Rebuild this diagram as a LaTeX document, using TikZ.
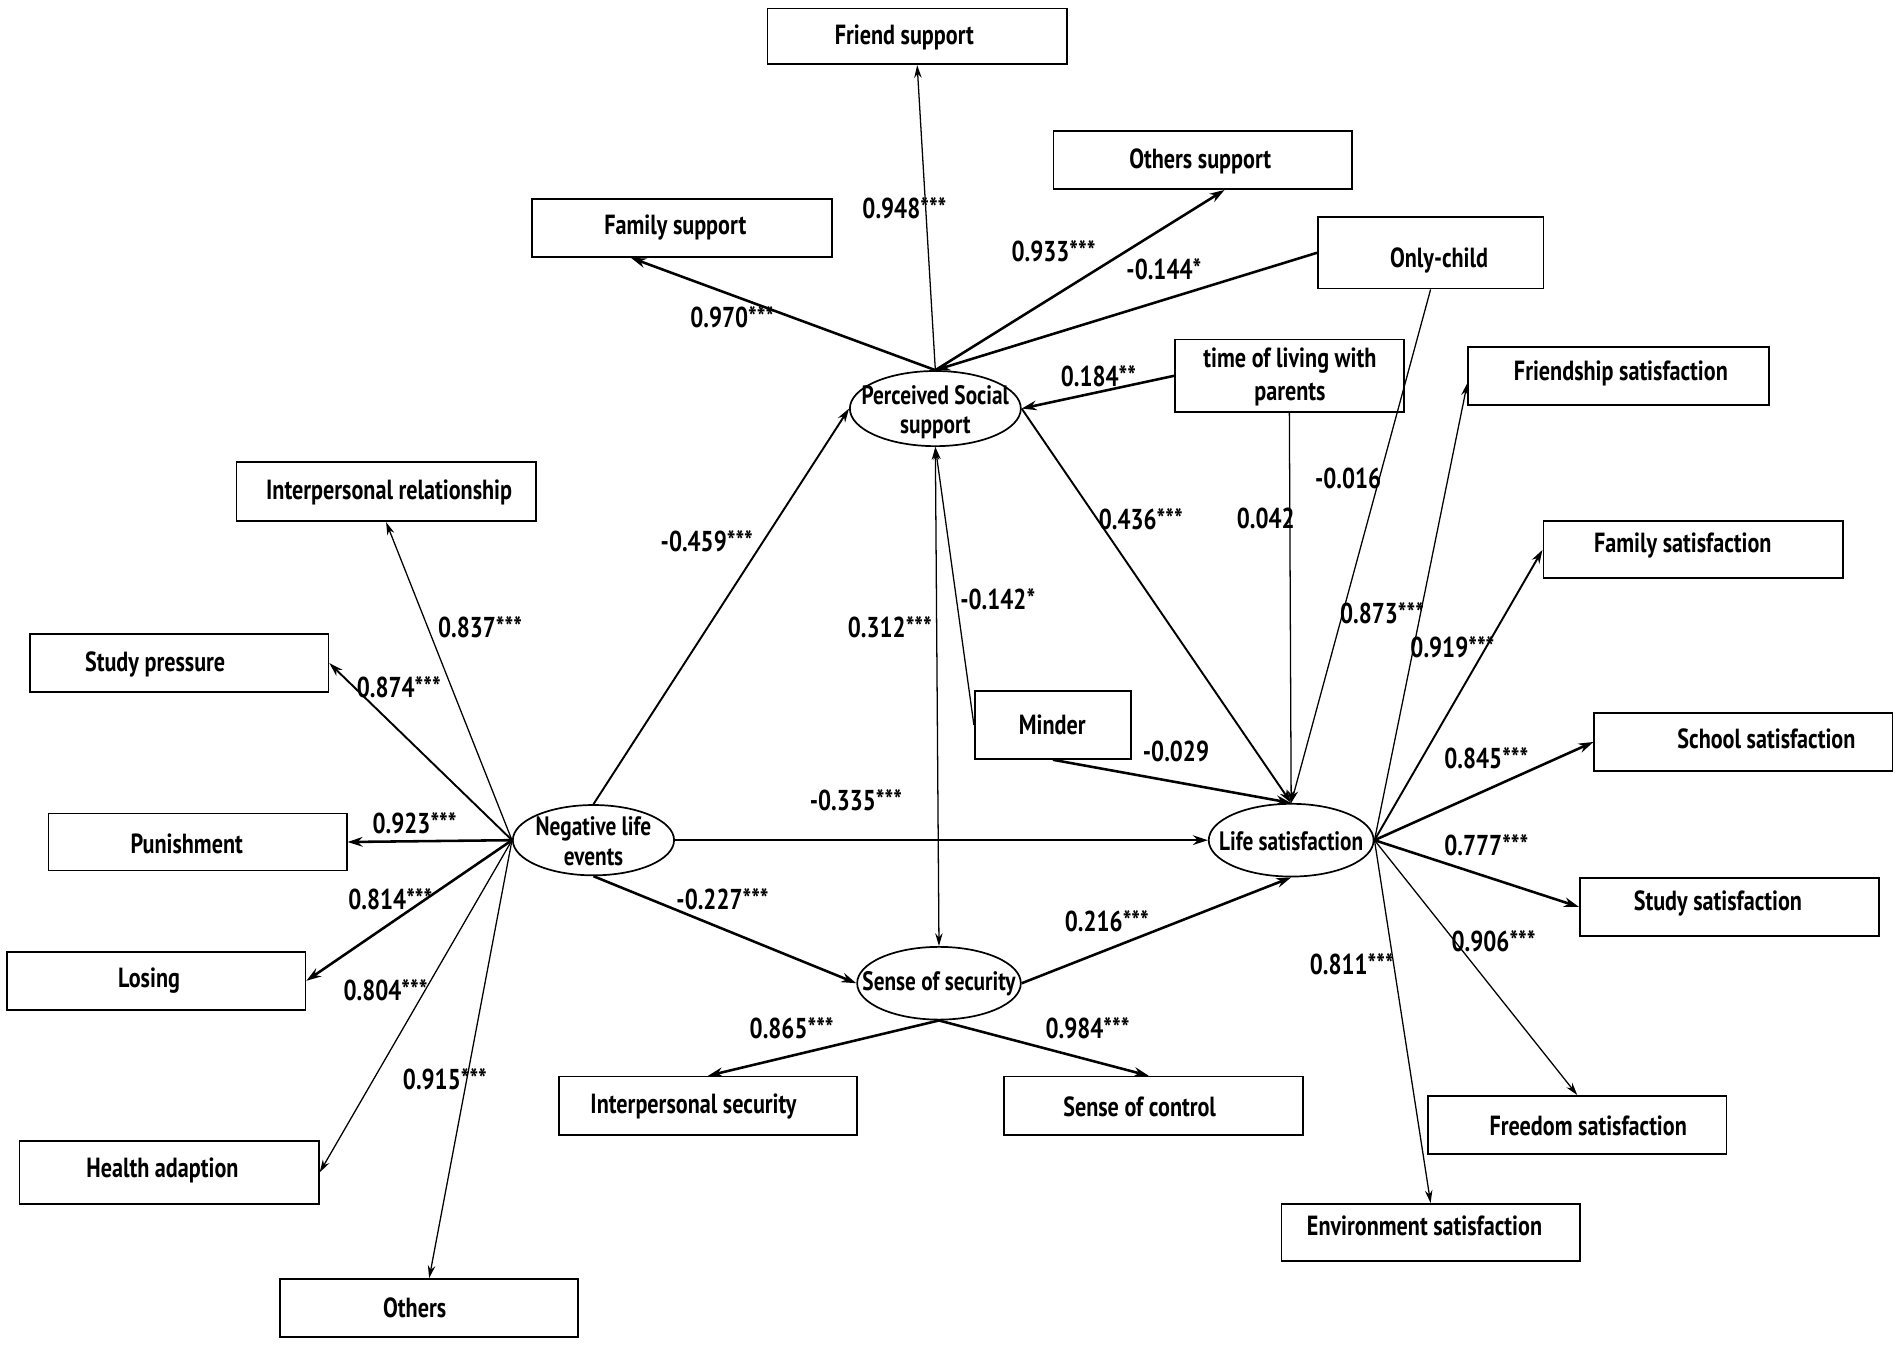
\documentclass[tikz,border=0pt]{standalone}
\usepackage{fontspec}
\setmainfont{PT Sans}[FakeStretch=0.8]
\usetikzlibrary{arrows.meta,shapes.geometric,calc}
\begin{document}
\begin{tikzpicture}[x=0.02cm,y=-0.02cm,
  box/.style={draw, line width=0.8pt, inner sep=0pt},
  txt/.style={font=\bfseries\fontsize{13}{15.5}\selectfont, align=center, inner sep=0pt},
  ltxt/.style={font=\bfseries\fontsize{12.5}{14}\selectfont, align=center, inner sep=0pt},
  lat/.style={draw, ellipse, line width=0.8pt, inner sep=0pt},
  lab/.style={font=\bfseries\fontsize{13.5}{15}\selectfont, inner sep=0pt},
  thin/.style={line width=0.6pt, -{Stealth[length=6pt,width=3.5pt]}},
  med/.style={line width=0.9pt, -{Stealth[length=6.5pt,width=4pt]}},
  thk/.style={line width=1.2pt, -{Stealth[length=7pt,width=4.5pt]}}]
\useasboundingbox (0,0) rectangle (1568,1112);
\newcommand\bx[8]{%
  \node[box, minimum width=#4*0.02cm, minimum height=#5*0.02cm] (#1) at (#2,#3) {};
  \node[txt] (#1t) at (#6,#7) {#8};}
\newcommand\lv[7]{%
  \node[lat, minimum width=#4*0.02cm, minimum height=#5*0.02cm] (#1) at (#2,#3) {};
  \node[ltxt] (#1t) at (#2,#6) {#7};}
% boxes
\bx{fs}{756.5}{30}{247}{46}{746}{31}{Friend support}
\bx{os}{992}{132}{246}{48}{990}{133}{Others support}
\bx{fam}{562.5}{188}{247}{48}{557}{188}{Family support}
\bx{oc}{1180}{208.5}{186}{59}{1187}{215}{Only-child}
\bx{tl}{1063.5}{310}{189}{60}{1064}{311}{time of living with\\parents}
\bx{fss}{1335}{310}{248}{48}{1337}{308}{Friendship satisfaction}
\bx{ir}{318.5}{405.5}{247}{49}{321}{406}{Interpersonal relationship}
\bx{fams}{1396.5}{453.5}{247}{47}{1388}{450}{Family satisfaction}
\bx{sp}{148}{547}{246}{48}{128}{548}{Study pressure}
\bx{mi}{868.5}{598}{129}{56}{868}{598}{Minder}
\bx{sch}{1438}{612}{246}{48}{1457}{609}{School satisfaction}
\bx{pun}{163}{694.5}{246}{47}{154}{696}{Punishment}
\bx{sts}{1426.5}{748}{247}{48}{1417}{745}{Study satisfaction}
\bx{los}{129}{809}{246}{48}{123}{809}{Losing}
\bx{is}{584}{912}{246}{48}{572}{913}{Interpersonal security}
\bx{sc}{951.5}{912}{247}{48}{940}{913}{Sense of control}
\bx{frs}{1301}{928}{246}{48}{1310}{929}{Freedom satisfaction}
\bx{ha}{139.5}{967}{247}{52}{134}{965}{Health adaption}
\bx{env}{1180}{1016.5}{246}{47}{1175}{1011}{Environment satisfaction}
\bx{oth}{354}{1079}{246}{48}{342}{1079}{Others}
% latent variables
\lv{ps}{771.5}{337}{141}{62}{340}{Perceived Social\\support}
\lv{neg}{489.5}{693}{133}{58}{694}{Negative life\\events}
\lv{ls}{1065}{693}{136}{60}{694}{Life satisfaction}
\lv{ss}{774.5}{811}{135}{60}{811}{Sense of security}
% connectors: perceived social support
\draw[thin] (ps.north) -- (fs.south);
\draw[thk] (ps.north) -- ($(fam.south)+(-42,0)$);
\draw[thk] (ps.north) -- ($(os.south)+(18,0)$);
\draw[thk] (oc.west) -- (ps.north);
\draw[thk] (tl.west) -- (ps.east);
\draw[thin] (oc.south) -- (ls.north);
\draw[thin] (tl.south) -- (ls.north);
\draw[med] (ps.east) -- (ls.north);
\draw[thin] (mi.west) -- (ps.south);
\draw[thk] (mi.south) -- (ls.north);
\draw[line width=0.6pt, {Stealth[length=6pt,width=3.5pt]}-{Stealth[length=6pt,width=3.5pt]}] (ps.south) -- (ss.north);
\draw[med] (neg.north) -- (ps.west);
\draw[thk] (neg.east) -- (ls.west);
\draw[thk] (neg.south) -- (ss.west);
\draw[thk] (ss.east) -- (ls.south);
\draw[thk] (ss.south) -- (is.north);
\draw[thk] (ss.south) -- ($(sc.north)+(-4,0)$);
% negative life events fan
\draw[thin] (neg.west) -- (ir.south);
\draw[med] (neg.west) -- (sp.east);
\draw[thk] (neg.west) -- (pun.east);
\draw[thk] (neg.west) -- (los.east);
\draw[thin] (neg.west) -- (ha.east);
\draw[thin] (neg.west) -- (oth.north);
% life satisfaction fan
\draw[thin] (ls.east) -- ($(fss.west)+(0,6)$);
\draw[med] (ls.east) -- (fams.west);
\draw[thk] (ls.east) -- (sch.west);
\draw[thk] (ls.east) -- (sts.west);
\draw[thin] (ls.east) -- (frs.north);
\draw[thin] (ls.east) -- (env.north);
% labels
\node[lab] (l1) at (746,172) {0.948***};
\node[lab] (l2) at (604,262) {0.970***};
\node[lab] (l3) at (869,207) {0.933***};
\node[lab] (l4) at (960,222) {-0.144*};
\node[lab] (l5) at (906,310) {0.184**};
\node[lab] (l6) at (1112,395) {-0.016};
\node[lab] (l7) at (1044,428) {0.042};
\node[lab] (l8) at (941,428) {0.436***};
\node[lab] (l9) at (823,494) {-0.142*};
\node[lab] (l10) at (970,620) {-0.029};
\node[lab] (l11) at (734,517) {0.312***};
\node[lab] (l12) at (583,446) {-0.459***};
\node[lab] (l13) at (706,660) {-0.335***};
\node[lab] (l14) at (596,742) {-0.227***};
\node[lab] (l15) at (913,760) {0.216***};
\node[lab] (l16) at (653,848) {0.865***};
\node[lab] (l17) at (897,848) {0.984***};
\node[lab] (l18) at (396,517) {0.837***};
\node[lab] (l19) at (329,567) {0.874***};
\node[lab] (l20) at (342,679) {0.923***};
\node[lab] (l21) at (322,742) {0.814***};
\node[lab] (l22) at (318,817) {0.804***};
\node[lab] (l23) at (367,890) {0.915***};
\node[lab] (l24) at (1140,506) {0.873***};
\node[lab] (l25) at (1198,534) {0.919***};
\node[lab] (l26) at (1226,625) {0.845***};
\node[lab] (l27) at (1226,697) {0.777***};
\node[lab] (l28) at (1232,776) {0.906***};
\node[lab] (l29) at (1115,795) {0.811***};
\end{tikzpicture}
\end{document}
